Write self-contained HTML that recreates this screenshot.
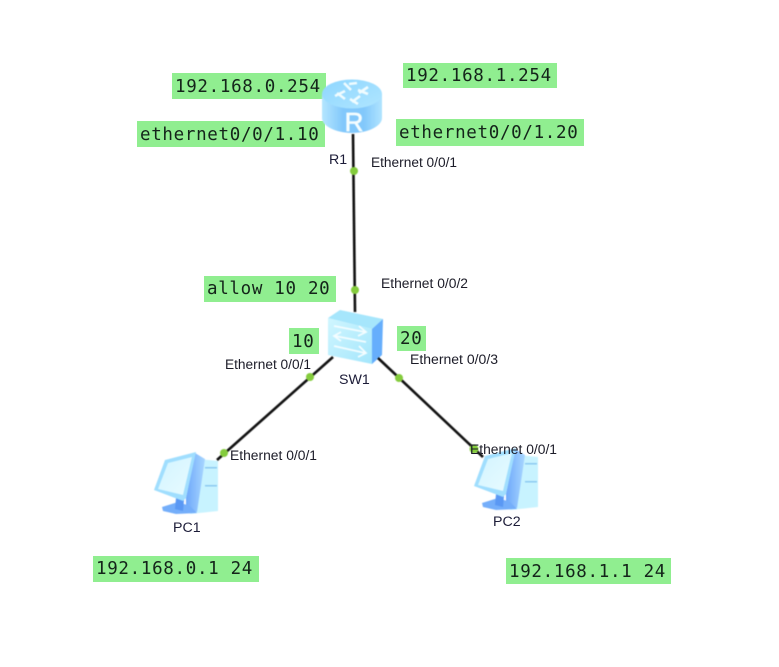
<!DOCTYPE html>
<html>
<head>
<meta charset="utf-8">
<style>
html,body{margin:0;padding:0;background:#fff;width:779px;height:667px;overflow:hidden}
svg{display:block}
.m{font-family:"DejaVu Sans Mono",monospace;font-size:17.5px;letter-spacing:.68px;fill:#14241a}
.s{font-family:"Liberation Sans",sans-serif;font-size:13.5px;fill:#1c1c28}
.n{font-family:"Liberation Sans",sans-serif;font-size:14.2px;fill:#1c1c38}
.g{fill:#90ee90}
.b{filter:blur(.45px)}
</style>
</head>
<body>
<svg width="779" height="667" viewBox="0 0 779 667" xmlns="http://www.w3.org/2000/svg">
<defs>
<linearGradient id="rb" x1="0" x2="1" y1="0" y2="0"><stop offset="0" stop-color="#b4e6ff"/><stop offset=".35" stop-color="#82c8fb"/><stop offset=".7" stop-color="#82c8fb"/><stop offset="1" stop-color="#b0e4ff"/></linearGradient>
<linearGradient id="rt" x1="0" x2="1" y1="0" y2="1"><stop offset="0" stop-color="#8ed6ff"/><stop offset="1" stop-color="#b0e6ff"/></linearGradient>
<linearGradient id="sf" x1="0" x2="1" y1="0" y2="1"><stop offset="0" stop-color="#d0f6ff"/><stop offset="1" stop-color="#a4e6fc"/></linearGradient>
<linearGradient id="sc" x1="0" x2="1" y1="0" y2="1"><stop offset="0" stop-color="#d2f4ff"/><stop offset="1" stop-color="#e8fbff"/></linearGradient>
<linearGradient id="sd" x1="0" x2="1" y1="0" y2="0"><stop offset="0" stop-color="#6ea8fa"/><stop offset="1" stop-color="#a8d6ff"/></linearGradient>
<g id="pc">
  <polygon points="199,459 218,461 218,511 190,514" fill="#c8f3ff"/>
  <polygon points="195,453 205,459 197,512 186,510 186,498" fill="url(#sd)"/>
  <polygon points="162,507 178,502 190,506 197,513 176,514 163,511" fill="#74aefa"/>
  <polygon points="176,498 184,500 183,511 175,509" fill="#5a98f4"/>
  <polygon points="154,490 165,460 196,452 186,498 183,501" fill="#a0defe"/>
  <polygon points="158,489 168,463 192,457 183,495" fill="url(#sc)"/>
  <rect x="205" y="467" width="12" height="1.5" fill="#8ccaf0"/>
  <rect x="205" y="485" width="12" height="1.5" fill="#8ccaf0"/>
</g>
</defs>

<rect class="g" x="172" y="73" width="154" height="26"/>
<rect class="g" x="403" y="63" width="154" height="25"/>
<rect class="g" x="137" y="121" width="188" height="26"/>
<rect class="g" x="396" y="119" width="188" height="27"/>
<rect class="g" x="204" y="276" width="132" height="26"/>
<rect class="g" x="289" y="328" width="30" height="26"/>
<rect class="g" x="397" y="326" width="29" height="25"/>
<rect class="g" x="93" y="556" width="166" height="26"/>
<rect class="g" x="506" y="558" width="165" height="26"/>

<g class="b">
<!-- router -->
<path d="M322,94 V118 C322,126 336,133 352,133 C368,133 382,126 382,118 V94 Z" fill="url(#rb)"/>
<ellipse cx="352" cy="94" rx="30" ry="14.5" fill="url(#rt)"/>
<g stroke="#f0fcff" stroke-width="2.6" fill="none">
  <path d="M335,96 L345,91 M345,99 L337,93"/>
  <path d="M344,83 L351,90 M357,83 L349,84"/>
  <path d="M358,90 L368,94 M368,87 L359,93"/>
  <path d="M350,99 L358,104 M360,96 L352,102"/>
</g>
<text x="354" y="131" text-anchor="middle" font-family="Liberation Sans,sans-serif" font-size="26" stroke="#f4fdff" stroke-width=".7" fill="#f4fdff">R</text>

<!-- switch -->
<polygon points="328,318 340,310 383,319 372,329" fill="#a6e6fc"/>
<polygon points="328,318 372,329 372,364 328,355" fill="url(#sf)"/>
<polygon points="372,329 383,319 382,355 372,364" fill="#66aefc"/>
<g stroke="#f4fdff" stroke-width="1.8" fill="none">
  <path d="M334,326 L365,332 M359,326 L366,332 L358,336"/>
  <path d="M335,336 L366,342 M341,332 L334,336 L341,341"/>
  <path d="M334,346 L365,353 M359,346 L366,353 L358,357"/>
</g>

<!-- PCs -->
<use href="#pc"/>
<use href="#pc" x="320" y="-4"/>

<!-- links -->
<g stroke="#111" stroke-width="2.6" fill="none">
  <line x1="353" y1="134" x2="355" y2="312"/>
  <line x1="333" y1="357" x2="217" y2="460"/>
  <line x1="378" y1="358" x2="483" y2="457"/>
</g>
<g fill="#84cc3c">
  <circle cx="354" cy="171" r="4"/>
  <circle cx="355" cy="290" r="4"/>
  <circle cx="310" cy="377" r="4"/>
  <circle cx="399" cy="378" r="4"/>
  <circle cx="224" cy="453" r="4"/>
  <circle cx="474" cy="449" r="4.5"/>
</g>
</g>

<text class="m" x="175" y="92">192.168.0.254</text>
<text class="m" x="406" y="81">192.168.1.254</text>
<text class="m" x="140" y="140">ethernet0/0/1.10</text>
<text class="m" x="399" y="138">ethernet0/0/1.20</text>
<text class="m" x="207" y="294">allow 10 20</text>
<text class="m" x="292" y="347">10</text>
<text class="m" x="400" y="344">20</text>
<text class="m" x="96" y="574">192.168.0.1 24</text>
<text class="m" x="509" y="577">192.168.1.1 24</text>

<text class="s" x="371" y="167" textLength="86" lengthAdjust="spacingAndGlyphs">Ethernet 0/0/1</text>
<text class="s" x="381" y="288" textLength="87" lengthAdjust="spacingAndGlyphs">Ethernet 0/0/2</text>
<text class="s" x="410" y="364" textLength="88" lengthAdjust="spacingAndGlyphs">Ethernet 0/0/3</text>
<text class="s" x="225" y="369" textLength="86" lengthAdjust="spacingAndGlyphs">Ethernet 0/0/1</text>
<text class="s" x="230" y="460" textLength="87" lengthAdjust="spacingAndGlyphs">Ethernet 0/0/1</text>
<text class="s" x="470" y="454" textLength="87" lengthAdjust="spacingAndGlyphs">Ethernet 0/0/1</text>
<text class="n" x="329" y="164">R1</text>
<text class="n" x="339" y="384">SW1</text>
<text class="n" x="173" y="532">PC1</text>
<text class="n" x="493" y="526">PC2</text>
</svg>
</body>
</html>
